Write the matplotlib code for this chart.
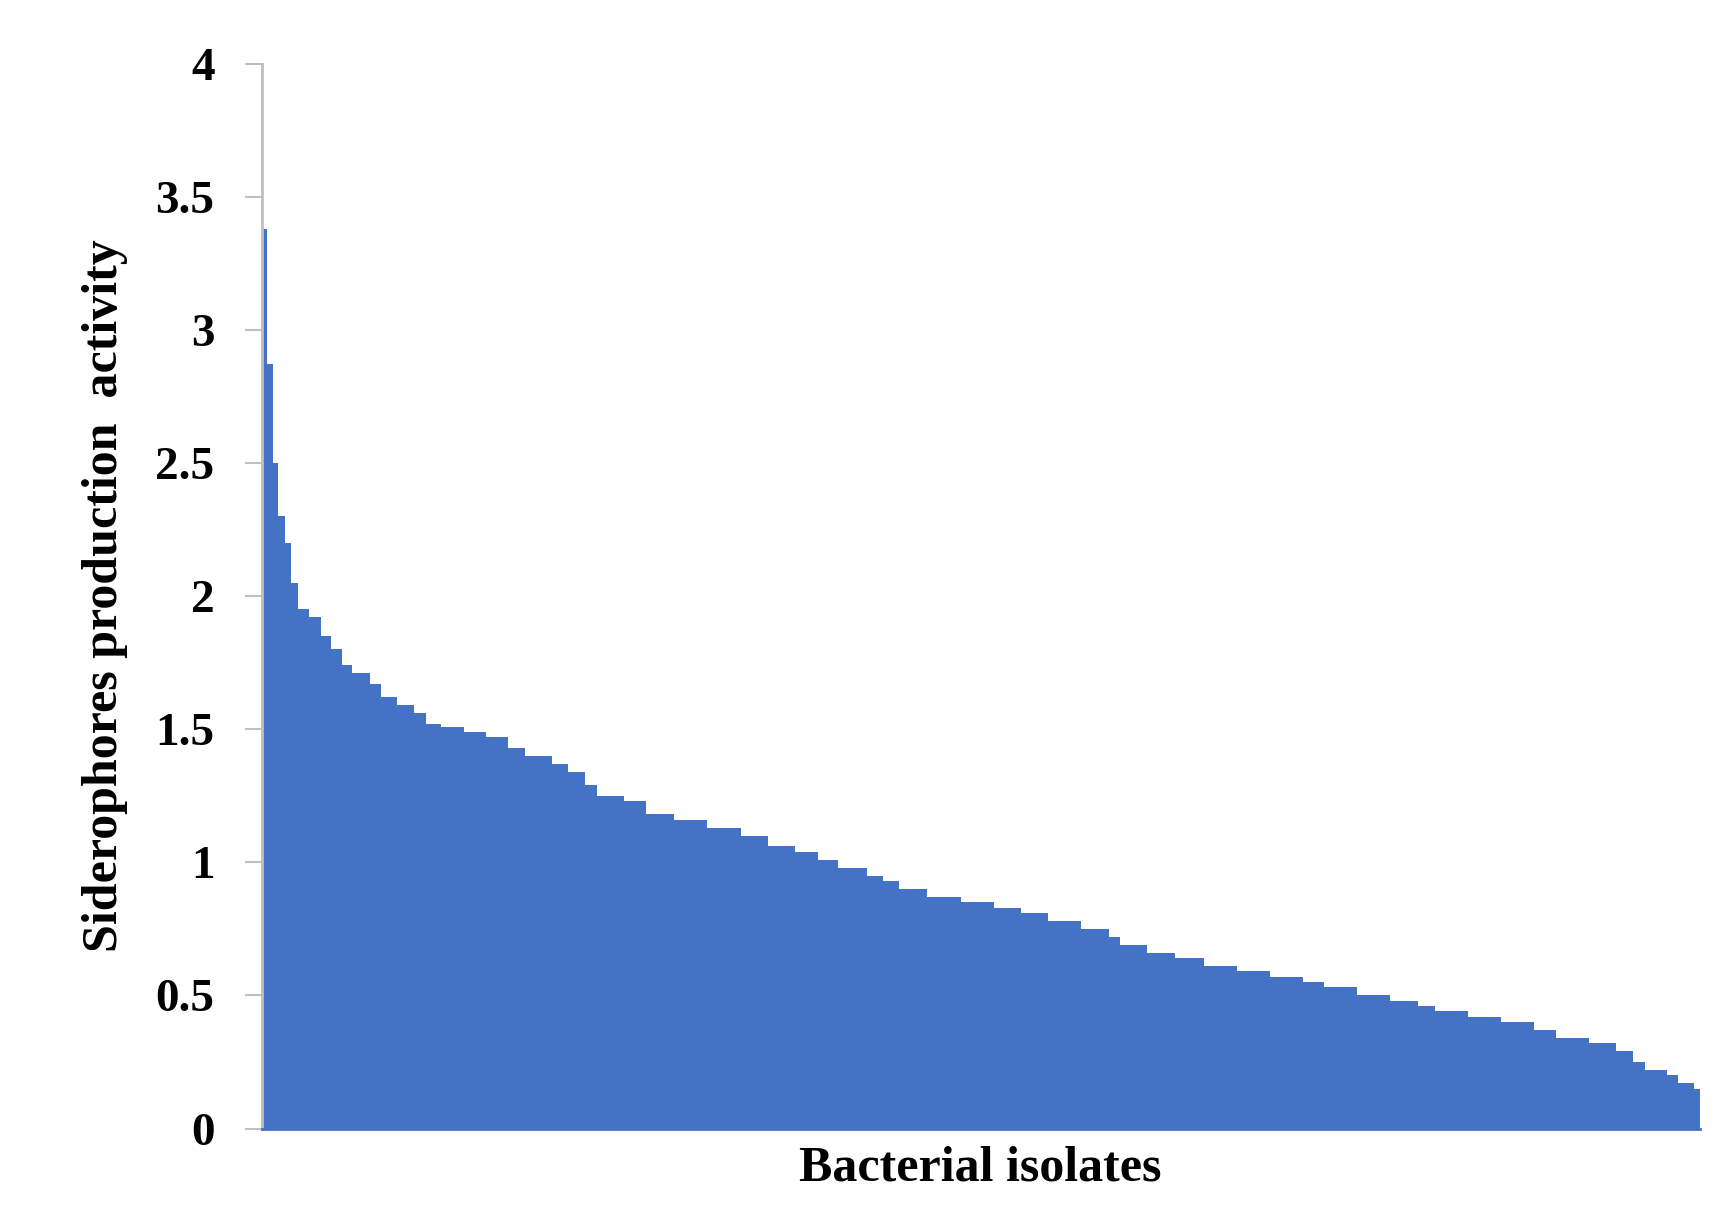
import matplotlib
matplotlib.use("Agg")
import matplotlib.pyplot as plt

# isolate rank position (percent of isolates) and siderophore activity
rank_pct = [0.0, 0.4, 0.8, 1.15, 1.6, 2.0, 2.5, 3.3, 4.1, 4.8, 5.6, 6.3, 7.5, 8.3, 9.4, 10.6,
            11.4, 12.5, 14.1, 15.6, 17.1, 18.3, 20.2, 21.3, 22.5, 23.3, 25.2, 26.7, 28.7, 31.0,
            33.3, 35.2, 37.1, 38.7, 40.1, 42.1, 43.2, 44.3, 46.3, 48.6, 50.9, 52.8, 54.7, 57.0,
            58.9, 59.7, 61.6, 63.5, 65.5, 67.8, 70.1, 72.4, 73.9, 76.2, 78.5, 80.4, 81.6, 83.9,
            86.2, 88.5, 90.0, 92.3, 94.2, 95.4, 96.2, 97.7, 98.5, 99.6, 100.0]
activity = [3.38, 2.87, 2.5, 2.3, 2.2, 2.05, 1.95, 1.92, 1.85, 1.8, 1.74, 1.71, 1.67, 1.62, 1.59, 1.56,
            1.52, 1.51, 1.49, 1.47, 1.43, 1.40, 1.37, 1.34, 1.29, 1.25, 1.23, 1.18, 1.16, 1.13,
            1.10, 1.06, 1.04, 1.01, 0.98, 0.95, 0.93, 0.90, 0.87, 0.85, 0.83, 0.81, 0.78, 0.75,
            0.72, 0.69, 0.66, 0.64, 0.61, 0.59, 0.57, 0.55, 0.53, 0.50, 0.48, 0.46, 0.44, 0.42,
            0.40, 0.37, 0.34, 0.32, 0.29, 0.25, 0.22, 0.20, 0.17, 0.15, 0.15]
yticks = [0, 0.5, 1, 1.5, 2, 2.5, 3, 3.5, 4]
ytick_labels = ["0", "0.5", "1", "1.5", "2", "2.5", "3", "3.5", "4"]

fig = plt.figure(figsize=(17.22, 12.24), dpi=100)
ax = fig.add_axes([0.152, 0.078, 0.835, 0.87])
ax.fill_between(rank_pct, activity, 0, step="post", color="#4472C4", linewidth=0)
ax.set_xlim(0, 100)
ax.set_ylim(0, 4)
ax.set_yticks(yticks)
ax.set_yticklabels(ytick_labels, fontfamily="Liberation Serif", fontweight="bold", fontsize=34)
ax.set_xticks([])
for s in ["top", "right"]:
    ax.spines[s].set_visible(False)
ax.spines["left"].set_color("#BFBFBF")
ax.spines["left"].set_linewidth(2)
ax.spines["bottom"].set_color("#4472C4")
ax.spines["bottom"].set_linewidth(2)
ax.tick_params(axis="y", length=12, width=1.5, color="#BFBFBF", pad=22)
ax.set_ylabel("Siderophores production  activity", fontfamily="Liberation Serif",
              fontweight="bold", fontsize=36, labelpad=20)
ax.set_xlabel("Bacterial isolates", fontfamily="Liberation Serif", fontweight="bold",
              fontsize=36, labelpad=12)
fig.savefig("out.png", dpi=100, facecolor="white")
